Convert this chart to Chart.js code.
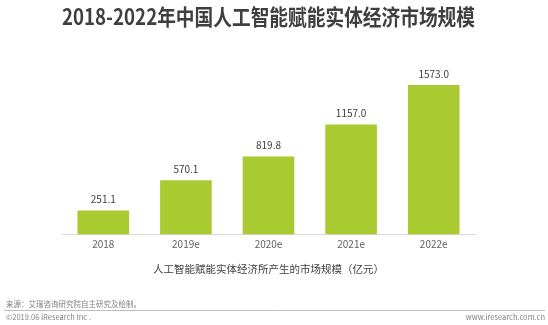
<!DOCTYPE html>
<html>
<head>
<meta charset="utf-8">
<script src="https://cdn.jsdelivr.net/npm/chart.js@4"></script>
<style>
  html, body { margin: 0; padding: 0; background: #fff; }
  #wrap { width: 548px; height: 325px; }
</style>
</head>
<body>
<div id="wrap"><canvas id="marketChart" width="548" height="325"></canvas></div>
<script>
// market size by year (100M yuan)
var years = ['2018', '2019e', '2020e', '2021e', '2022e'];
var marketSize = [251.1, 570.1, 819.8, 1157.0, 1573.0];

var FONT = '"Noto Sans CJK SC", "Noto Sans", sans-serif';

// value labels above each bar
var valueLabels = {
    id: 'valueLabels',
    afterDatasetsDraw: function (chart) {
        var ctx = chart.ctx;
        var meta = chart.getDatasetMeta(0);
        ctx.save();
        ctx.font = '10px ' + FONT;
        ctx.fillStyle = '#404040';
        ctx.textAlign = 'center';
        ctx.textBaseline = 'middle';
        meta.data.forEach(function (bar, i) {
            ctx.fillText(marketSize[i].toFixed(1), bar.x, bar.y - 11);
        });
        ctx.restore();
    }
};

// source note, rule and copyright line at the bottom
var footer = {
    id: 'footer',
    afterDraw: function (chart) {
        var ctx = chart.ctx;
        ctx.save();
        ctx.font = '7.5px ' + FONT;
        ctx.fillStyle = '#808080';
        ctx.textBaseline = 'middle';
        ctx.textAlign = 'left';
        ctx.fillText('来源：艾瑞咨询研究院自主研究及绘制。', 6, 304);
        ctx.fillText('©2019.06 iResearch Inc .', 6, 317);
        ctx.textAlign = 'right';
        ctx.fillText('www.iresearch.com.cn', 545, 317);
        ctx.strokeStyle = '#bfbfbf';
        ctx.lineWidth = 1;
        ctx.beginPath();
        ctx.moveTo(4, 310.5);
        ctx.lineTo(545, 310.5);
        ctx.stroke();
        ctx.restore();
    }
};

var ctx = document.getElementById('marketChart').getContext('2d');
var marketChart = new Chart(ctx, {
    type: 'bar',
    data: {
        labels: years,
        datasets: [{
            label: '人工智能赋能实体经济所产生的市场规模（亿元）',
            data: marketSize,
            backgroundColor: '#a9ca30',
            barPercentage: 0.625,
            categoryPercentage: 1
        }]
    },
    options: {
        responsive: false,
        animation: false,
        layout: {
            padding: { left: 62, right: 73, top: 0, bottom: 50 }
        },
        plugins: {
            legend: { display: false },
            tooltip: { enabled: false },
            title: {
                display: true,
                text: '2018-2022年中国人工智能赋能实体经济市场规模',
                color: '#3f3f3f',
                font: { family: FONT, size: 22, weight: 'bold' },
                padding: { top: 3, bottom: 34 }
            }
        },
        scales: {
            x: {
                grid: { display: false, drawTicks: false },
                border: { color: '#d9d9d9', width: 1 },
                ticks: {
                    color: '#606060',
                    font: { family: FONT, size: 10 },
                    padding: 4
                },
                title: {
                    display: true,
                    text: '人工智能赋能实体经济所产生的市场规模（亿元）',
                    color: '#404040',
                    font: { family: FONT, size: 10.5 },
                    padding: { top: 8, bottom: 0 }
                }
            },
            y: {
                display: false,
                min: 0,
                max: 1800
            }
        }
    },
    plugins: [valueLabels, footer]
});
</script>
</body>
</html>
